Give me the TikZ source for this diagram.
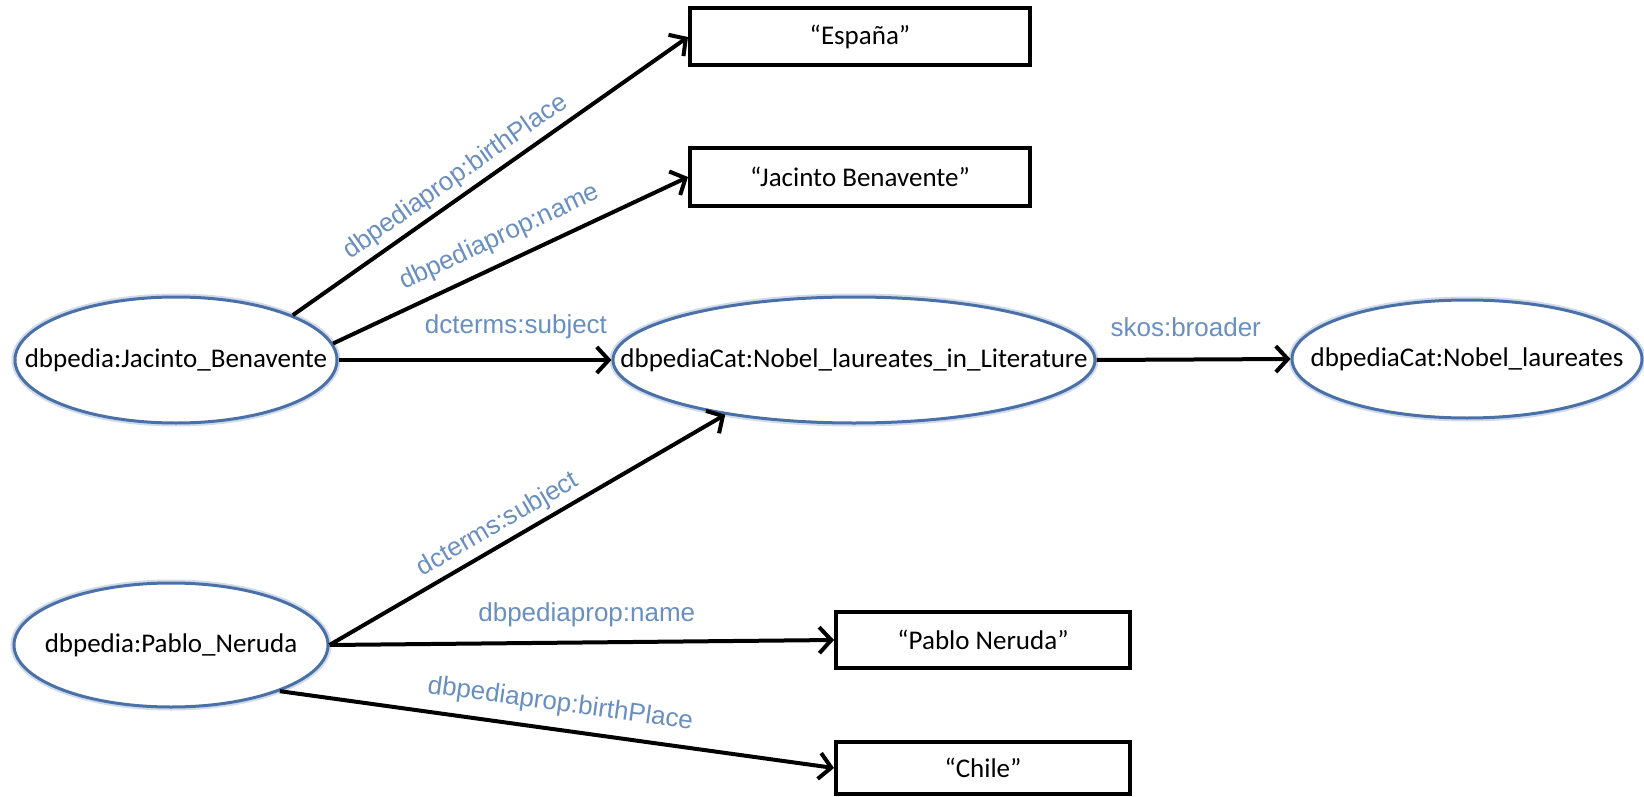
\documentclass[tikz,border=0pt]{standalone}
\usepackage{fontspec}
\setmainfont{Carlito}
\newfontfamily\propfont{Liberation Sans}
\usetikzlibrary{shapes.geometric,arrows.meta}

\definecolor{resblue}{RGB}{74,112,168}
\definecolor{propblue}{RGB}{105,142,192}

\tikzset{
  res/.style={ellipse, draw=resblue, line width=3pt, fill=white,
    preaction={draw=resblue!25, line width=7pt},
    inner xsep=-200pt, inner ysep=0pt, font=\fontsize{27}{32}\selectfont},
  literal/.style={rectangle, draw=black, line width=4pt, inner sep=0pt,
    font=\fontsize{27}{32}\selectfont},
  prop/.style={font=\propfont\fontsize{26}{30}\selectfont, text=propblue, inner sep=2pt},
  link/.style={-{Straight Barb[length=12pt,width=26pt]}, line width=4pt}
}

\begin{document}
\begin{tikzpicture}[x=1pt, y=-1pt]

\useasboundingbox (0,0) rectangle (1644,797);

%% Resources
\node [res, minimum width=322pt, minimum height=126pt] (jb) at (176,360) {dbpedia:Jacinto\_Benavente};
\node [res, minimum width=482pt, minimum height=126pt] (litcat) at (854,360) {dbpediaCat:Nobel\_laureates\_in\_Literature};
\node [res, minimum width=350pt, minimum height=118pt] (nobcat) at (1467,359) {dbpediaCat:Nobel\_laureates};
\node [res, minimum width=314pt, minimum height=124pt] (pn) at (171,645) {dbpedia:Pablo\_Neruda};

%% Literals
\node [literal, minimum width=340pt, minimum height=57pt] (espana) at (860,37) {“España”};
\node [literal, minimum width=340pt, minimum height=57pt] (jbname) at (860,177) {“Jacinto Benavente”};
\node [literal, minimum width=294pt, minimum height=56pt] (pnname) at (983,640) {“Pablo Neruda”};
\node [literal, minimum width=294pt, minimum height=52pt] (chile) at (983,768) {“Chile”};

%% Jacinto Benavente
\draw [link] (jb.21) -- node [prop, sloped, above=3pt, pos=0.44] {dbpediaprop:birthPlace} (espana.west);
\draw [link] (jb.6) -- node [prop, sloped, above=9pt, pos=0.5] {dbpediaprop:name} (jbname.west);
\draw [link] (jb.east) -- node [prop, above=17pt, pos=0.65] {dcterms:subject} (litcat.west);

%% Category
\draw [link] (litcat.east) -- node [prop, above=19pt, pos=0.46] {skos:broader} (nobcat.west);

%% Pablo Neruda
\draw [link] (pn.east) -- node [prop, sloped, above=3pt, pos=0.45] {dcterms:subject} (litcat.203);
\draw [link] (pn.east) -- node [prop, above=12pt, pos=0.51] {dbpediaprop:name} (pnname.west);
\draw [link] (pn.-23) -- node [prop, sloped, above=9pt, pos=0.5] {dbpediaprop:birthPlace} (chile.west);

\end{tikzpicture}
\end{document}
